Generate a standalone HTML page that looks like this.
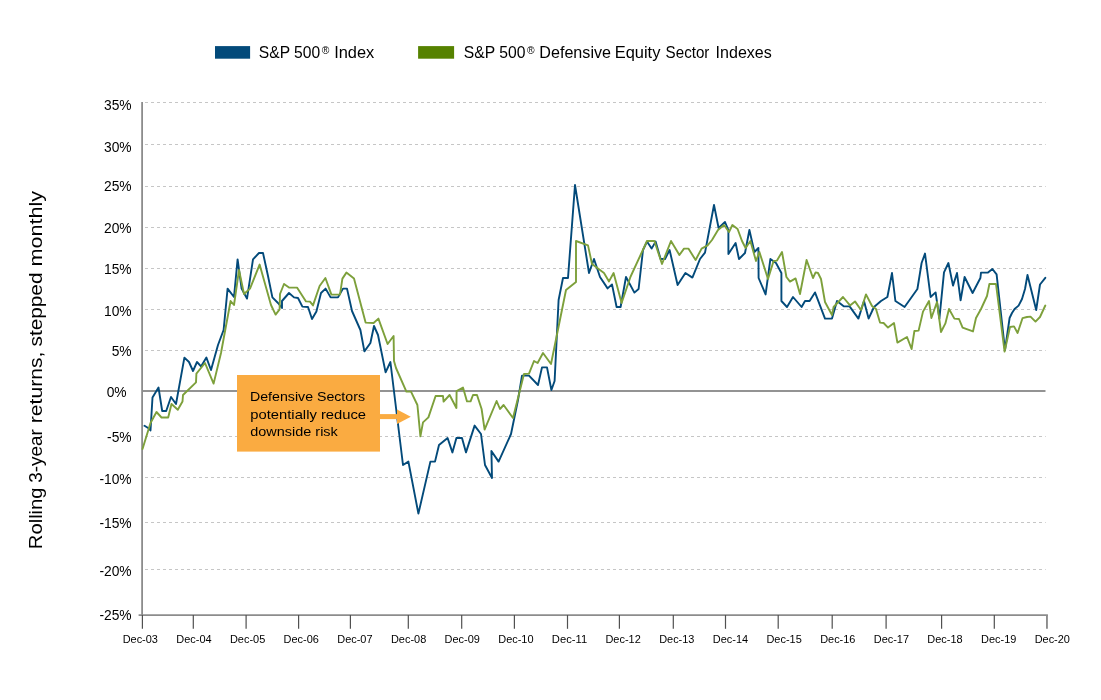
<!DOCTYPE html>
<html lang="en"><head><meta charset="utf-8"><title>Rolling 3-year returns</title>
<style>
html,body{margin:0;padding:0;background:#fff;}
body{width:1101px;height:700px;overflow:hidden;font-family:"Liberation Sans",sans-serif;}
svg{display:block;}
text{font-family:"Liberation Sans",sans-serif;fill:#000;}
.yl{font-size:13.8px;text-anchor:end;}
.xl{font-size:10.6px;text-anchor:middle;}
.lg{font-size:15.5px;}
.an{font-size:13.6px;}
</style></head><body>
<svg width="1101" height="700" viewBox="0 0 1101 700">
<rect width="1101" height="700" fill="#fff"/>
<rect x="215" y="46.1" width="35.1" height="12.6" fill="#034a7a"/>
<text x="258.8" y="58.1" font-size="16.2" textLength="61.4" lengthAdjust="spacingAndGlyphs">S&amp;P 500</text>
<text x="321.8" y="53.7" font-size="10.3">®</text>
<text x="334.2" y="58.1" font-size="16.2" textLength="40.1" lengthAdjust="spacingAndGlyphs">Index</text>
<rect x="418.1" y="46.1" width="36" height="12.6" fill="#568200"/>
<text x="463.8" y="58.1" font-size="16.2" textLength="61.6" lengthAdjust="spacingAndGlyphs">S&amp;P 500</text>
<text x="527" y="53.7" font-size="10.3">®</text>
<text x="539.3" y="58.1" font-size="16.2" textLength="71.7" lengthAdjust="spacingAndGlyphs">Defensive</text>
<text x="614.7" y="58.1" font-size="16.2" textLength="45.7" lengthAdjust="spacingAndGlyphs">Equity</text>
<text x="665.6" y="58.1" font-size="16.2" textLength="43.8" lengthAdjust="spacingAndGlyphs">Sector</text>
<text x="715.6" y="58.1" font-size="16.2" textLength="56.2" lengthAdjust="spacingAndGlyphs">Indexes</text>
<text transform="translate(42.2,549.2) rotate(-90)" font-size="19" textLength="61.8" lengthAdjust="spacingAndGlyphs">Rolling</text>
<text transform="translate(42.2,482.8) rotate(-90)" font-size="19" textLength="53.6" lengthAdjust="spacingAndGlyphs">3-year</text>
<text transform="translate(42.2,423.2) rotate(-90)" font-size="19" textLength="71.6" lengthAdjust="spacingAndGlyphs">returns,</text>
<text transform="translate(42.2,346.5) rotate(-90)" font-size="19" textLength="74.0" lengthAdjust="spacingAndGlyphs">stepped</text>
<text transform="translate(42.2,266.4) rotate(-90)" font-size="19" textLength="75.4" lengthAdjust="spacingAndGlyphs">monthly</text>
<line x1="145" y1="102.5" x2="1045.7" y2="102.5" stroke="#c6c6c6" stroke-width="1" stroke-dasharray="3 3"/>
<line x1="145" y1="144.5" x2="1045.7" y2="144.5" stroke="#c6c6c6" stroke-width="1" stroke-dasharray="3 3"/>
<line x1="145" y1="186.5" x2="1045.7" y2="186.5" stroke="#c6c6c6" stroke-width="1" stroke-dasharray="3 3"/>
<line x1="145" y1="227.5" x2="1045.7" y2="227.5" stroke="#c6c6c6" stroke-width="1" stroke-dasharray="3 3"/>
<line x1="145" y1="268.5" x2="1045.7" y2="268.5" stroke="#c6c6c6" stroke-width="1" stroke-dasharray="3 3"/>
<line x1="145" y1="309.5" x2="1045.7" y2="309.5" stroke="#c6c6c6" stroke-width="1" stroke-dasharray="3 3"/>
<line x1="145" y1="350.5" x2="1045.7" y2="350.5" stroke="#c6c6c6" stroke-width="1" stroke-dasharray="3 3"/>
<line x1="145" y1="436.5" x2="1045.7" y2="436.5" stroke="#c6c6c6" stroke-width="1" stroke-dasharray="3 3"/>
<line x1="145" y1="477.5" x2="1045.7" y2="477.5" stroke="#c6c6c6" stroke-width="1" stroke-dasharray="3 3"/>
<line x1="145" y1="522.5" x2="1045.7" y2="522.5" stroke="#c6c6c6" stroke-width="1" stroke-dasharray="3 3"/>
<line x1="145" y1="569.5" x2="1045.7" y2="569.5" stroke="#c6c6c6" stroke-width="1" stroke-dasharray="3 3"/>
<line x1="142" y1="391" x2="1045.5" y2="391" stroke="#939393" stroke-width="2"/>
<line x1="142.1" y1="102" x2="142.1" y2="615" stroke="#8c8c8c" stroke-width="1.8"/>
<polyline fill="none" stroke="#034a7a" stroke-width="1.9" stroke-linejoin="round" stroke-linecap="round" points="144.5,425.8 148.5,428.2 150.5,430.5 152.5,397.5 158.5,387.5 162.2,411.0 166.2,411.0 171.0,397.0 176.0,404.0 184.4,357.6 189.0,362.0 193.0,371.0 197.0,362.0 201.0,366.4 206.4,357.6 211.0,370.0 218.0,345.0 223.6,330.0 227.6,288.6 234.0,297.0 237.6,259.4 241.6,288.6 247.0,298.6 253.0,259.4 259.0,253.0 263.0,253.0 268.0,276.0 272.4,297.4 278.0,303.0 282.0,308.0 282.0,301.0 289.0,293.0 294.0,297.4 298.0,298.0 302.4,306.6 308.0,307.0 312.0,319.0 316.4,311.4 321.0,293.0 325.6,288.6 330.6,297.4 338.0,297.4 343.0,288.6 347.0,288.6 352.0,311.0 360.4,330.0 364.4,351.4 370.4,343.0 374.0,326.0 378.0,335.0 385.6,372.4 390.4,362.0 403.0,465.0 408.4,461.6 418.4,513.6 430.4,461.6 435.0,461.6 439.0,445.0 447.6,438.0 452.4,452.4 456.4,438.0 462.0,438.0 466.0,452.4 474.6,425.6 481.0,434.0 485.0,465.0 492.0,478.0 491.4,451.0 498.6,461.6 511.0,434.0 518.0,400.0 522.0,375.6 529.0,375.6 538.0,385.0 542.0,367.4 547.0,367.4 551.4,390.0 554.6,381.0 558.6,300.0 563.0,278.0 568.0,278.0 575.0,185.0 589.0,273.0 594.0,259.0 600.0,277.0 607.6,288.4 612.0,284.4 616.6,307.0 620.6,307.0 626.0,277.0 634.4,292.6 638.6,289.0 643.0,250.0 647.0,241.6 651.6,248.6 655.6,241.6 660.6,259.0 665.0,259.0 669.6,250.0 677.6,285.0 685.4,273.0 692.4,277.6 700.0,259.0 705.0,252.6 714.0,205.0 718.6,228.0 725.0,222.0 728.4,230.0 728.4,254.0 735.6,243.0 739.0,259.0 745.0,253.0 749.4,230.0 754.4,252.0 758.4,248.0 758.6,278.0 765.6,294.4 770.4,259.0 776.0,263.0 781.4,273.0 781.4,301.0 787.0,307.0 793.0,297.0 801.6,307.0 805.0,301.0 809.6,301.0 815.0,292.4 825.0,318.6 832.0,318.6 837.0,301.0 844.0,306.4 849.6,306.4 858.4,318.6 864.0,301.0 868.6,318.6 874.0,307.0 881.0,301.0 887.4,297.0 892.0,273.0 895.4,301.0 904.6,307.0 917.4,289.0 921.6,263.0 925.0,253.6 930.6,297.0 935.6,292.4 939.4,318.6 944.0,272.4 948.4,263.0 953.0,285.6 957.0,273.0 960.6,300.4 964.6,277.0 972.6,293.0 980.4,278.0 981.0,272.6 988.0,272.6 992.4,269.0 996.6,274.4 1005.0,350.0 1009.6,318.0 1012.0,313.0 1014.6,309.0 1018.6,305.6 1022.0,299.0 1025.0,289.0 1027.5,275.0 1036.2,310.0 1040.0,284.5 1045.3,277.8"/>
<polyline fill="none" stroke="#7da03b" stroke-width="1.9" stroke-linejoin="round" stroke-linecap="round" points="142.5,449.0 150.5,423.0 156.5,412.0 161.5,417.5 168.2,417.5 171.5,404.0 177.8,409.8 182.5,401.5 183.0,395.0 196.0,382.4 196.4,373.6 205.0,363.0 213.6,383.6 221.0,353.0 230.6,301.0 234.0,305.0 239.0,270.0 244.0,294.0 250.0,288.6 259.6,264.6 271.0,305.0 275.6,314.6 279.6,309.4 280.0,294.0 284.0,284.0 289.0,287.6 297.0,287.6 306.0,301.4 310.0,301.6 313.0,305.4 319.6,286.0 325.4,278.0 331.4,294.6 340.0,294.6 342.4,278.6 346.4,272.6 354.0,278.6 365.6,322.6 373.6,323.0 378.4,318.6 387.6,344.0 393.6,336.0 394.0,361.0 396.0,368.0 406.4,391.6 411.0,391.6 417.4,405.0 420.4,436.4 423.0,422.4 428.4,417.4 435.6,396.0 443.0,396.0 443.6,401.6 449.6,395.0 456.4,408.0 456.6,391.0 463.0,387.6 467.0,401.4 470.6,401.4 473.0,395.0 477.0,395.0 481.6,409.0 484.6,429.6 496.6,401.0 500.0,409.0 503.6,405.0 513.0,418.0 524.0,374.0 529.0,373.6 534.0,361.0 537.6,363.0 543.0,353.0 551.0,364.0 566.0,290.0 576.0,282.0 576.0,241.0 588.0,245.4 592.0,264.0 604.0,273.0 609.0,281.4 613.6,273.0 621.6,303.0 630.4,277.0 647.0,241.0 654.4,241.0 662.0,264.0 671.0,241.0 679.4,255.0 684.0,248.6 688.4,248.6 695.6,260.0 701.6,248.6 707.6,245.4 712.0,240.0 718.0,230.0 724.0,225.0 729.0,232.0 732.4,225.0 737.6,229.0 742.0,241.0 745.6,248.0 750.4,241.0 756.0,261.0 759.4,252.0 768.0,279.0 773.6,261.0 777.0,260.6 782.0,252.0 786.4,277.0 790.0,281.6 795.6,278.4 800.0,294.0 806.6,260.0 813.0,278.0 815.6,272.4 818.0,273.0 821.0,279.0 825.0,302.0 832.0,315.0 833.6,307.0 843.0,297.0 850.0,305.4 855.0,301.4 861.0,310.0 866.0,294.4 872.0,306.0 876.0,309.0 880.0,322.6 883.6,323.0 888.0,327.6 894.0,323.0 897.4,342.6 907.0,337.0 911.6,349.0 914.4,331.0 918.6,330.6 923.0,311.6 929.0,301.0 931.4,318.0 937.0,302.0 941.0,332.0 945.4,323.4 949.0,309.0 954.4,318.6 959.0,319.0 962.6,327.6 973.0,331.4 976.0,318.0 981.0,309.0 987.0,296.0 989.4,284.0 996.0,284.0 1004.6,351.6 1010.0,327.0 1014.0,326.4 1017.6,333.0 1022.5,318.2 1027.0,317.0 1030.5,316.6 1035.5,321.6 1040.0,317.0 1045.3,305.5"/>
<line x1="138.6" y1="615.05" x2="1047.9" y2="615.05" stroke="#8c8c8c" stroke-width="1.7"/>
<line x1="142.4" y1="615" x2="142.4" y2="628.8" stroke="#505050" stroke-width="1.2"/>
<line x1="193.29999999999998" y1="615" x2="193.29999999999998" y2="628.8" stroke="#505050" stroke-width="1.2"/>
<line x1="246.1" y1="615" x2="246.1" y2="628.8" stroke="#505050" stroke-width="1.2"/>
<line x1="298.6" y1="615" x2="298.6" y2="628.8" stroke="#505050" stroke-width="1.2"/>
<line x1="350.40000000000003" y1="615" x2="350.40000000000003" y2="628.8" stroke="#505050" stroke-width="1.2"/>
<line x1="408.3" y1="615" x2="408.3" y2="628.8" stroke="#505050" stroke-width="1.2"/>
<line x1="461.70000000000005" y1="615" x2="461.70000000000005" y2="628.8" stroke="#505050" stroke-width="1.2"/>
<line x1="514.4" y1="615" x2="514.4" y2="628.8" stroke="#505050" stroke-width="1.2"/>
<line x1="567.5" y1="615" x2="567.5" y2="628.8" stroke="#505050" stroke-width="1.2"/>
<line x1="619.4" y1="615" x2="619.4" y2="628.8" stroke="#505050" stroke-width="1.2"/>
<line x1="673.3000000000001" y1="615" x2="673.3000000000001" y2="628.8" stroke="#505050" stroke-width="1.2"/>
<line x1="725.5" y1="615" x2="725.5" y2="628.8" stroke="#505050" stroke-width="1.2"/>
<line x1="778.2" y1="615" x2="778.2" y2="628.8" stroke="#505050" stroke-width="1.2"/>
<line x1="832.2" y1="615" x2="832.2" y2="628.8" stroke="#505050" stroke-width="1.2"/>
<line x1="886.1" y1="615" x2="886.1" y2="628.8" stroke="#505050" stroke-width="1.2"/>
<line x1="941.6" y1="615" x2="941.6" y2="628.8" stroke="#505050" stroke-width="1.2"/>
<line x1="994.3000000000001" y1="615" x2="994.3000000000001" y2="628.8" stroke="#505050" stroke-width="1.2"/>
<line x1="1046.95" y1="615" x2="1046.95" y2="628.8" stroke="#8c8c8c" stroke-width="1.9"/>
<text class="yl" x="131.6" y="110.0">35%</text>
<text class="yl" x="131.6" y="152.0">30%</text>
<text class="yl" x="131.6" y="190.8">25%</text>
<text class="yl" x="131.6" y="232.8">20%</text>
<text class="yl" x="131.6" y="273.8">15%</text>
<text class="yl" x="131.6" y="315.8">10%</text>
<text class="yl" x="131.6" y="355.8">5%</text>
<text class="yl" x="126.6" y="396.5">0%</text>
<text class="yl" x="131.6" y="441.8">-5%</text>
<text class="yl" x="131.6" y="483.8">-10%</text>
<text class="yl" x="131.6" y="527.8">-15%</text>
<text class="yl" x="131.6" y="576.0">-20%</text>
<text class="yl" x="131.6" y="619.8">-25%</text>
<text class="xl" x="140.3" y="642.9" textLength="35.3" lengthAdjust="spacingAndGlyphs">Dec-03</text>
<text class="xl" x="194.0" y="642.9" textLength="35.3" lengthAdjust="spacingAndGlyphs">Dec-04</text>
<text class="xl" x="247.6" y="642.9" textLength="35.3" lengthAdjust="spacingAndGlyphs">Dec-05</text>
<text class="xl" x="301.2" y="642.9" textLength="35.3" lengthAdjust="spacingAndGlyphs">Dec-06</text>
<text class="xl" x="354.9" y="642.9" textLength="35.3" lengthAdjust="spacingAndGlyphs">Dec-07</text>
<text class="xl" x="408.6" y="642.9" textLength="35.3" lengthAdjust="spacingAndGlyphs">Dec-08</text>
<text class="xl" x="462.2" y="642.9" textLength="35.3" lengthAdjust="spacingAndGlyphs">Dec-09</text>
<text class="xl" x="515.9" y="642.9" textLength="35.3" lengthAdjust="spacingAndGlyphs">Dec-10</text>
<text class="xl" x="569.5" y="642.9" textLength="35.3" lengthAdjust="spacingAndGlyphs">Dec-11</text>
<text class="xl" x="623.1" y="642.9" textLength="35.3" lengthAdjust="spacingAndGlyphs">Dec-12</text>
<text class="xl" x="676.8" y="642.9" textLength="35.3" lengthAdjust="spacingAndGlyphs">Dec-13</text>
<text class="xl" x="730.5" y="642.9" textLength="35.3" lengthAdjust="spacingAndGlyphs">Dec-14</text>
<text class="xl" x="784.1" y="642.9" textLength="35.3" lengthAdjust="spacingAndGlyphs">Dec-15</text>
<text class="xl" x="837.8" y="642.9" textLength="35.3" lengthAdjust="spacingAndGlyphs">Dec-16</text>
<text class="xl" x="891.4" y="642.9" textLength="35.3" lengthAdjust="spacingAndGlyphs">Dec-17</text>
<text class="xl" x="945.0" y="642.9" textLength="35.3" lengthAdjust="spacingAndGlyphs">Dec-18</text>
<text class="xl" x="998.7" y="642.9" textLength="35.3" lengthAdjust="spacingAndGlyphs">Dec-19</text>
<text class="xl" x="1052.3" y="642.9" textLength="35.3" lengthAdjust="spacingAndGlyphs">Dec-20</text>
<rect x="237" y="375" width="143" height="76.6" fill="#faab41"/>
<rect x="379" y="414.1" width="19" height="5" fill="#faab41"/>
<polygon points="397,409.4 410.8,416.7 397,424" fill="#faab41"/>
<text class="an" x="250" y="401" textLength="115" lengthAdjust="spacingAndGlyphs">Defensive Sectors</text>
<text class="an" x="250.3" y="418.8" textLength="115.8" lengthAdjust="spacingAndGlyphs">potentially reduce</text>
<text class="an" x="250.3" y="436.4" textLength="87.5" lengthAdjust="spacingAndGlyphs">downside risk</text>
</svg></body></html>
